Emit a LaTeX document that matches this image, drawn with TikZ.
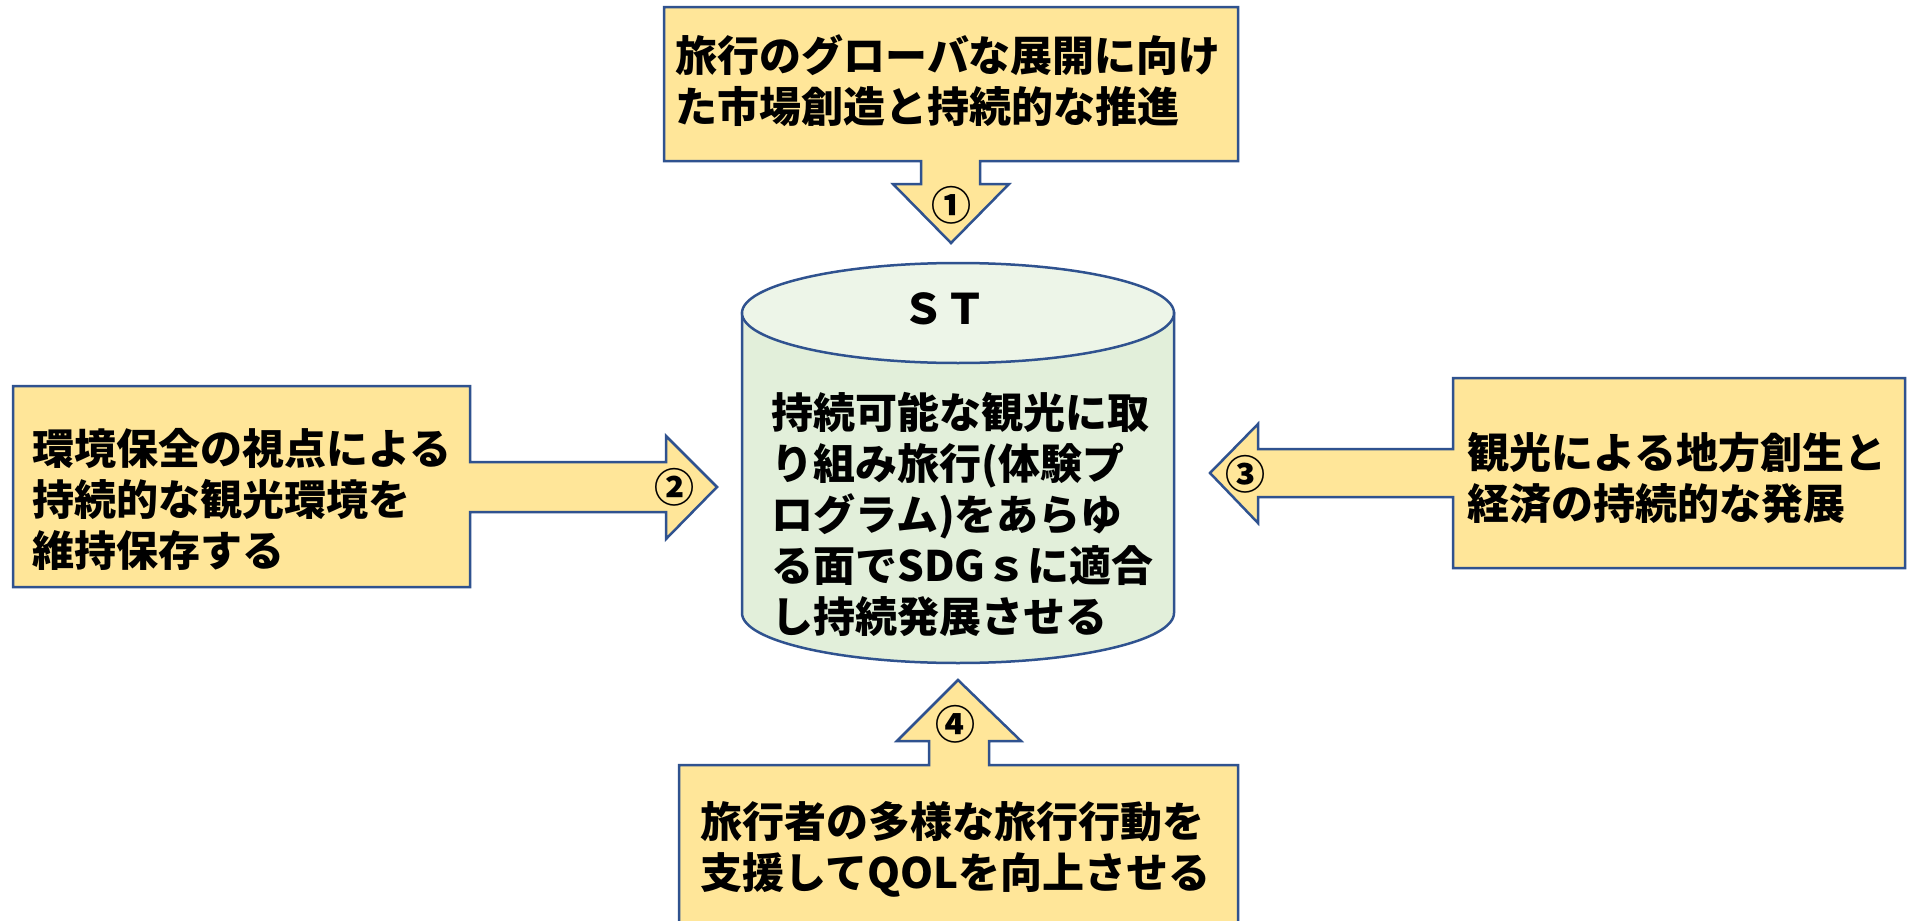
\documentclass[tikz,border=0pt]{standalone}
\usepackage{fontspec}
\setmainfont{Noto Sans CJK JP}
\definecolor{edge}{HTML}{2F528F}
\definecolor{gold}{HTML}{FFE699}
\definecolor{cylbody}{HTML}{E2EFDA}
\definecolor{cyltop}{HTML}{EDF5E8}
\tikzset{
  callout/.style={draw=edge, fill=gold, line width=1.25pt, line join=miter},
  cyl/.style={draw=edge, line width=1.25pt},
  txt/.style={font=\fontsize{21pt}{25.5pt}\selectfont\bfseries, align=left, inner sep=0pt, anchor=west},
  num/.style={font=\fontsize{20pt}{20pt}\selectfont\bfseries, inner sep=0pt},
}
\begin{document}
\begin{tikzpicture}[x=0.5pt,y=-0.5pt]
\path[use as bounding box, fill=white] (0,0) rectangle (1908,921);
\clip (0,0) rectangle (1908,921);

% top callout
\draw[callout] (664,7) -- (1238,7) -- (1238,161) -- (980,161) -- (980,184) -- (1009,184)
  -- (951,243) -- (893,184) -- (921,184) -- (921,161) -- (664,161) -- cycle;
% left callout
\draw[callout] (13,386) -- (470,386) -- (470,462) -- (666,462) -- (666,436) -- (717,487)
  -- (666,539) -- (666,512) -- (470,512) -- (470,587) -- (13,587) -- cycle;
% right callout
\draw[callout] (1905,378) -- (1453,378) -- (1453,449) -- (1258,449) -- (1258,424) -- (1210,473)
  -- (1258,523) -- (1258,497) -- (1453,497) -- (1453,568) -- (1905,568) -- cycle;
% bottom callout
\draw[callout] (679,960) -- (679,765) -- (929,765) -- (929,741) -- (897,741) -- (958,680)
  -- (1021,741) -- (989,741) -- (989,765) -- (1238,765) -- (1238,960);

% cylinder
\draw[cyl, fill=cylbody] (742,313) -- (742,613)
  arc[start angle=180, end angle=360, x radius=108pt, y radius=25pt]
  -- (1174,313) -- cycle;
\draw[cyl, fill=cyltop] (958,313) ellipse [x radius=108pt, y radius=25pt];

% texts
\node[txt] (t1) at (675,81) {旅行のグローバな展開に向け\\た市場創造と持続的な推進};
\node[txt] (t2) at (32,499) {環境保全の視点による\\持続的な観光環境を\\維持保存する};
\node[txt] (t3) at (1467,478) {観光による地方創生と\\経済の持続的な発展};
\node[txt] (t4) at (700,849) {旅行者の多様な旅行行動を\\支援してQOLを向上させる};
\node[txt, anchor=center] (st) at (944,309) {ＳＴ};
\node[txt] (core) at (771,514) {持続可能な観光に取\\り組み旅行(体験プ\\ログラム)をあらゆ\\る面でSDGｓに適合\\し持続発展させる};

% numbers
\node[num] (n1) at (951,205) {①};
\node[num] (n2) at (674,487) {②};
\node[num] (n3) at (1245,474) {③};
\node[num] (n4) at (955,724) {④};
\end{tikzpicture}
\end{document}
